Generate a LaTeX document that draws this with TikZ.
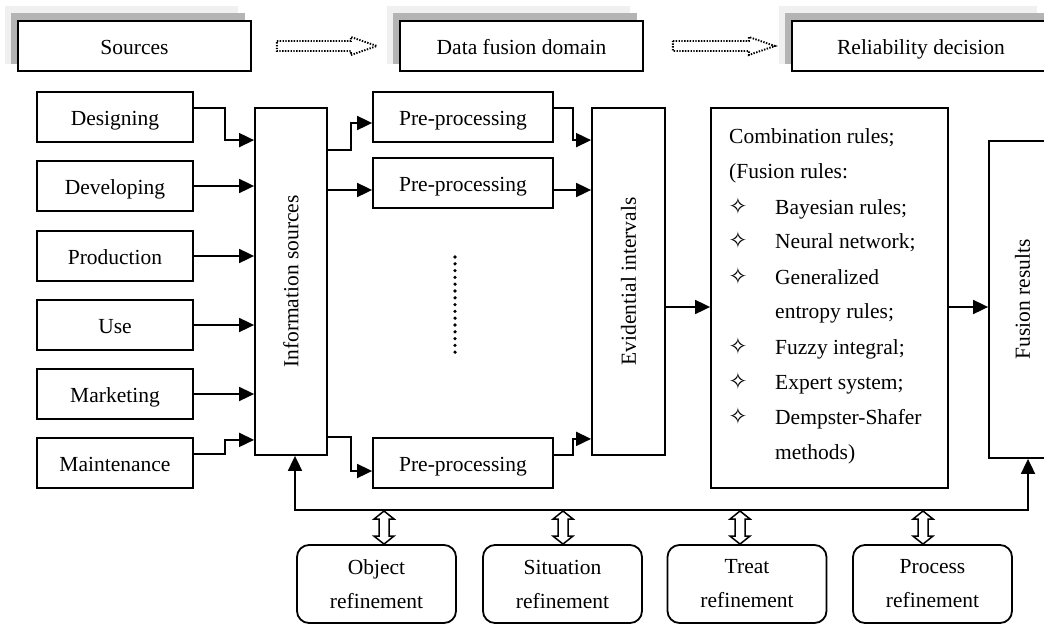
\documentclass[tikz,border=0pt]{standalone}
\usepackage{fontspec}
\setmainfont{Liberation Serif}
\newfontfamily\symfont{DejaVu Sans}
\usetikzlibrary{arrows.meta,calc}

\definecolor{shadelight}{HTML}{F0F0F0}
\definecolor{shadedark}{HTML}{B4B4B4}

\begin{document}
\begin{tikzpicture}[x=1pt,y=-1pt,
  every node/.style={font=\fontsize{21.5}{26}\selectfont, inner sep=0pt},
  box/.style={draw, line width=1.8pt, fill=white, text height=20pt, text depth=4pt},
  srcbox/.style={box, minimum width=156pt, minimum height=50pt},
  prebox/.style={box, minimum width=180pt, minimum height=50pt},
  hdrbox/.style={box, minimum height=50pt},
  tallbox/.style={box, minimum width=73pt, minimum height=347pt},
  refbox/.style={draw, line width=1.8pt, fill=white, rounded corners=12pt,
    minimum width=159pt, minimum height=78pt,
    align=center, font=\fontsize{21.5}{34}\selectfont},
  rule/.style={anchor=west, text height=20pt, text depth=4pt},
  star/.style={font=\symfont\fontsize{23}{26}\selectfont, text height=18pt, text depth=2pt},
  arr/.style={line width=1.8pt, -{Triangle[length=15pt,width=14pt]}},
  dotarrow/.style={line width=1.9pt, dash pattern=on 1.4pt off 1.4pt},
  hollow/.style={draw, fill=white, line width=1.5pt, line join=miter},
]
\clip (0,0) rectangle (1044,624);
\fill[white] (0,0) rectangle (1044,624);

% ---- header row with layered shading ----
\node[hdrbox, minimum width=233pt] (src) at (134.5,46) {};
\node[hdrbox, minimum width=243pt] (dfd) at (521.5,46) {};
\node[hdrbox, minimum width=258pt] (rel) at (921,46) {};
\foreach \h in {src,dfd,rel}{
  \fill[shadelight] ($(\h.north west)+(-12,-14)$) rectangle ($(\h.south east)+(-14,-8)$);
  \fill[shadedark]  ($(\h.north west)+(-6,-7)$)   rectangle ($(\h.south east)+(-7,-8)$);
}
\node[hdrbox, minimum width=233pt] at (src) {Sources};
\node[hdrbox, minimum width=243pt] at (dfd) {Data fusion domain};
\node[hdrbox, minimum width=258pt] at (rel) {Reliability decision};

% dotted block arrows between the headers
\draw[dotarrow] ($(src.east)+(25,-5)$) -- ++(74,0) -- ++(0,-4) -- ++(26,9)
  -- ++(-26,9) -- ++(0,-4) -- ++(-74,0) -- cycle;
\draw[dotarrow] ($(dfd.east)+(29,-5)$) -- ++(76,0) -- ++(0,-4) -- ++(26,9)
  -- ++(-26,9) -- ++(0,-4) -- ++(-76,0) -- cycle;

% ---- source boxes ----
\node[srcbox] (des) at (115,117) {Designing};
\node[srcbox] (dev) at (115,186) {Developing};
\node[srcbox] (pro) at (115,256) {Production};
\node[srcbox] (use) at (115,325) {Use};
\node[srcbox] (mkt) at (115,394) {Marketing};
\node[srcbox] (mnt) at (115,463) {Maintenance};

% ---- information sources ----
\node[tallbox, minimum width=72pt] (info) at (291,281.5) {};
\node[rotate=90] (infot) at (info) {Information sources};

% ---- pre-processing ----
\node[prebox] (pre1) at (463,117) {Pre-processing};
\node[prebox] (pre2) at (463,183) {Pre-processing};
\node[prebox] (pre3) at (463,463) {Pre-processing};
\foreach \i in {0,...,14} \fill (455,{257+6.8*\i}) circle (1.8);

% ---- evidential intervals ----
\node[tallbox] (evid) at (628.5,281.5) {};
\node[rotate=90] (evidt) at (evid) {Evidential intervals};

% ---- combination rules ----
\node[box, minimum width=237pt, minimum height=380pt] (comb) at (829.5,298) {};
\node[rule] (c1) at (729,135) {Combination rules;};
\node[rule] (c2) at (729,170) {(Fusion rules:};
\foreach \y/\t [count=\k] in {206/Bayesian rules;, 240/Neural network;, 276/Generalized,
    310/entropy rules;, 346/Fuzzy integral;, 381/Expert system;, 416/Dempster-Shafer, 451/methods)}
  \node[rule] (r\k) at (775,\y) {\t};
\foreach \y [count=\k] in {206,240,276,346,381,416}
  \node[star] (s\k) at (738,\y) {✧};

% ---- fusion results ----
\node[box, minimum width=67pt, minimum height=317pt] (fus) at (1022.5,299.5) {};
\node[rotate=90] (fust) at (fus) {Fusion results};

% ---- refinement boxes ----
\node[refbox] (obj) at (376.5,584) {Object\\refinement};
\node[refbox] (sit) at (562.5,584) {Situation\\refinement};
\node[refbox] (tre) at (747,584) {Treat\\refinement};
\node[refbox] (prc) at (932.5,584) {Process\\refinement};

% ---- connectors: sources -> information sources ----
\draw[arr] ($(des.east)+(0,-9)$) -- ++(31,0) |- ($(info.north west)+(0,33)$);
\draw[arr] (dev.east) -- (dev.east -| info.west);
\draw[arr] (pro.east) -- (pro.east -| info.west);
\draw[arr] (use.east) -- (use.east -| info.west);
\draw[arr] (mkt.east) -- (mkt.east -| info.west);
\draw[arr] ($(mnt.east)+(0,-9)$) -- ++(31,0) |- ($(info.south west)+(0,-16)$);

% ---- information sources -> pre-processing ----
\draw[arr] ($(info.north east)+(0,43)$) -- ++(23,0) |- ($(pre1.west)+(0,6)$);
\draw[arr] ($(pre2.west -| info.east)+(0,7)$) -- ($(pre2.west)+(0,7)$);
\draw[arr] ($(info.south east)+(0,-19)$) -- ++(23,0) |- ($(pre3.west)+(0,8)$);

% ---- pre-processing -> evidential intervals ----
\draw[arr] ($(pre1.east)+(0,-9)$) -- ++(19,0) |- ($(evid.north west)+(0,33)$);
\draw[arr] ($(pre2.east)+(0,7)$) -- ($(pre2.east -| evid.west)+(0,7)$);
\draw[arr] ($(pre3.east)+(0,-8)$) -- ++(19,0) |- ($(evid.south west)+(0,-17)$);

% ---- main chain ----
\draw[arr] (evid.east |- 0,307) -- (comb.west |- 0,307);
\draw[arr] (comb.east |- 0,307) -- (fus.west |- 0,307);

% ---- feedback bus ----
\coordinate (fbL) at (295,510);
\coordinate (fbR) at (1028,510);
\draw[line width=1.8pt, {Triangle[length=15pt,width=14pt]}-{Triangle[length=15pt,width=14pt]}]
  (fbL |- info.south) -- (fbL) -- (fbR) -- (fbR |- fus.south);

% ---- two-way hollow arrows to the refinement boxes ----
\foreach \ax/\b in {384/obj, 563/sit, 740/tre, 923/prc}
  \draw[hollow] (\ax,511) -- ++(10,8) -- ++(-5,0) -- ++(0,17) -- ++(5,0)
    -- (\ax,0 |- \b.north) -- ++(-10,-8) -- ++(5,0) -- ++(0,-17) -- ++(-5,0) -- cycle;
\end{tikzpicture}
\end{document}
